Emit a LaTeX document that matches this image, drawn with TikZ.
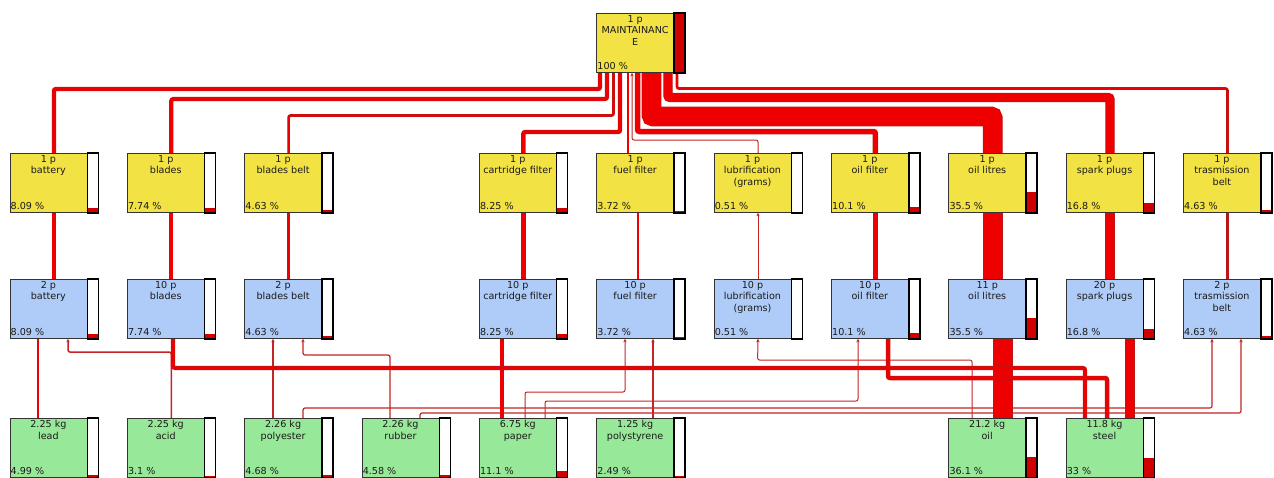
\documentclass[tikz,border=0pt]{standalone}
\usepackage{fontspec}
\setmainfont{DejaVu Sans}
\usetikzlibrary{arrows.meta,calc,backgrounds}
\definecolor{boxyellow}{HTML}{F2E244}
\definecolor{boxblue}{HTML}{AFCBF7}
\definecolor{boxgreen}{HTML}{98E89A}
\definecolor{flowred}{HTML}{EE0000}
\definecolor{flowedge}{HTML}{B81818}
\definecolor{flowthin}{HTML}{C42424}
\definecolor{barred}{HTML}{D00000}
\definecolor{txt}{HTML}{1A1A1A}

\tikzset{
  proc/.style={draw=black!80, line width=0.8pt, minimum width=88pt, minimum height=59pt,
    inner sep=0pt, anchor=north west},
  title/.style={anchor=north, align=center, inner sep=0pt,
    font=\fontsize{9.6}{11.6}\selectfont, text=txt},
  share/.style={anchor=base west, inner sep=0pt,
    font=\fontsize{9.6}{11.6}\selectfont, text=txt},
  flow/.style={draw=flowedge, line width=0.55pt, double=flowred, double distance=#1pt,
    rounded corners=2pt},
  thinflow/.style={draw=flowthin, line width=#1pt, rounded corners=2pt,
    -{Stealth[length=3.5pt,width=3.5pt]}},
}

% process box: name, left, top, fill, title lines, share, bar fraction
\newcommand\lcabox[7]{%
  \node[proc, fill=#4] (#1) at (#2,#3) {};
  \fill[white] ([xshift=-11pt]#1.north east) rectangle (#1.south east);
  \fill[barred] ([xshift=-11pt]#1.south east) rectangle ([yshift=#7*59pt]#1.south east);
  \draw[black, line width=1.5pt] ([xshift=-11pt]#1.north east) rectangle (#1.south east);
  \node[title] (#1-t) at ([xshift=-5.5pt,yshift=-2pt]#1.north) {#5};
  \node[share] (#1-p) at ([xshift=1pt,yshift=3.5pt]#1.south west) {#6 \%};
}

\begin{document}
\begin{tikzpicture}[x=1pt,y=-1pt]
\useasboundingbox (0,0) rectangle (1274,477);

% ---- process boxes ----
\lcabox{top}{596.25}{13}{boxyellow}{1 p\\MAINTAINANC\\E}{100}{1}

\lcabox{bat1}{9.5}{153}{boxyellow}{1 p\\battery}{8.09}{0.0809}
\lcabox{bla1}{126.85}{153}{boxyellow}{1 p\\blades}{7.74}{0.0774}
\lcabox{belt1}{244.2}{153}{boxyellow}{1 p\\blades belt}{4.63}{0.0463}
\lcabox{cart1}{478.9}{153}{boxyellow}{1 p\\cartridge filter}{8.25}{0.0825}
\lcabox{fuel1}{596.25}{153}{boxyellow}{1 p\\fuel filter}{3.72}{0.0372}
\lcabox{lub1}{713.6}{153}{boxyellow}{1 p\\lubrification\\(grams)}{0.51}{0.0051}
\lcabox{oilf1}{830.95}{153}{boxyellow}{1 p\\oil filter}{10.1}{0.101}
\lcabox{lit1}{948.3}{153}{boxyellow}{1 p\\oil litres}{35.5}{0.355}
\lcabox{spark1}{1065.65}{153}{boxyellow}{1 p\\spark plugs}{16.8}{0.168}
\lcabox{trans1}{1183}{153}{boxyellow}{1 p\\trasmission\\belt}{4.63}{0.0463}

\lcabox{bat2}{9.5}{279}{boxblue}{2 p\\battery}{8.09}{0.0809}
\lcabox{bla2}{126.85}{279}{boxblue}{10 p\\blades}{7.74}{0.0774}
\lcabox{belt2}{244.2}{279}{boxblue}{2 p\\blades belt}{4.63}{0.0463}
\lcabox{cart2}{478.9}{279}{boxblue}{10 p\\cartridge filter}{8.25}{0.0825}
\lcabox{fuel2}{596.25}{279}{boxblue}{10 p\\fuel filter}{3.72}{0.0372}
\lcabox{lub2}{713.6}{279}{boxblue}{10 p\\lubrification\\(grams)}{0.51}{0.0051}
\lcabox{oilf2}{830.95}{279}{boxblue}{10 p\\oil filter}{10.1}{0.101}
\lcabox{lit2}{948.3}{279}{boxblue}{11 p\\oil litres}{35.5}{0.355}
\lcabox{spark2}{1065.65}{279}{boxblue}{20 p\\spark plugs}{16.8}{0.168}
\lcabox{trans2}{1183}{279}{boxblue}{2 p\\trasmission\\belt}{4.63}{0.0463}

\lcabox{lead}{9.5}{418}{boxgreen}{2.25 kg\\lead}{4.99}{0.0499}
\lcabox{acid}{126.85}{418}{boxgreen}{2.25 kg\\acid}{3.1}{0.031}
\lcabox{poly}{244.2}{418}{boxgreen}{2.26 kg\\polyester}{4.68}{0.0468}
\lcabox{rub}{361.55}{418}{boxgreen}{2.26 kg\\rubber}{4.58}{0.0458}
\lcabox{paper}{478.9}{418}{boxgreen}{6.75 kg\\paper}{11.1}{0.111}
\lcabox{polys}{596.25}{418}{boxgreen}{1.25 kg\\polystyrene}{2.49}{0.0249}
\lcabox{oil}{948.3}{418}{boxgreen}{21.2 kg\\oil}{36.1}{0.361}
\lcabox{steel}{1065.65}{418}{boxgreen}{11.8 kg\\steel}{33}{0.33}

\begin{pgfonlayer}{background}
% ---- flows into MAINTAINANCE ----
\draw[flow=3.2] (bat1.north) |- (600,89) -- (top.south -| 600,0);
\draw[flow=3.0] (bla1.north) |- (607,99) -- (top.south -| 607,0);
\draw[flow=1.6] (belt1.north) |- (613.5,115.5) -- (top.south -| 613.5,0);
\draw[flow=3.3] (cart1.north) |- (620,132) -- (top.south -| 620,0);
\draw[flow=1.2] (fuel1.north -| 628,0) -- (top.south -| 628,0);
\draw[thinflow=1] (lub1.north) |- (632,140) -- (top.south -| 632,0);
\draw[flow=4.4] (oilf1.north) |- (637.5,131.5) -- (top.south -| 637.5,0);
\draw[flow=18.8] (lit1.north) |- (651.5,116.5) -- (top.south -| 651.5,0);
\draw[flow=8.2] (spark1.north) |- (668,97.5) -- (top.south -| 668,0);
\draw[flow=1.6] (trans1.north) |- (677,88.5) -- (top.south -| 677,0);

% ---- flows between the two rows of parts ----
\draw[flow=3.2] (bat2.north) -- (bat1.south);
\draw[flow=3.0] (bla2.north) -- (bla1.south);
\draw[flow=1.6] (belt2.north) -- (belt1.south);
\draw[flow=3.3] (cart2.north) -- (cart1.south);
\draw[flow=1.2] (fuel2.north -| 638,0) -- (fuel1.south -| 638,0);
\draw[thinflow=1] (lub2.north) -- (lub1.south);
\draw[flow=4.4] (oilf2.north) -- (oilf1.south);
\draw[flow=18.8] (lit2.north) -- (lit1.south);
\draw[flow=8.2] (spark2.north) -- (spark1.south);
\draw[flow=1.6] (trans2.north) -- (trans1.south);

% ---- flows from materials ----
\draw[flow=1.8] (lead.north -| 38,0) -- (bat2.south -| 38,0);
\draw[thinflow=1.5] (acid.north) |- (68,352) -- (bat2.south -| 68,0);
\draw[thinflow=1.2] (poly.north -| 273,0) -- (belt2.south -| 273,0);
\draw[thinflow=1.2] (rub.north -| 390,0) |- (303,355) -- (belt2.south -| 303,0);
\draw[thinflow=1.2] (poly.north -| 303,0) |- (1212,408) -- (trans2.south -| 1212,0);
\draw[thinflow=1.2] (rub.north -| 420,0) |- (1241,413) -- (trans2.south -| 1241,0);
\draw[flow=3.3] (paper.north -| 502,0) -- (cart2.south -| 502,0);
\draw[thinflow=1] (paper.north -| 525,0) |- (625,392) -- (fuel2.south -| 625,0);
\draw[thinflow=1] (paper.north -| 545,0) |- (858,401) -- (oilf2.south -| 858,0);
\draw[thinflow=1.3] (polys.north -| 653,0) -- (fuel2.south -| 653,0);
\draw[thinflow=1] (oil.north -| 972,0) |- (757.6,360) -- (lub2.south);
\draw[flow=18.8] (oil.north -| 1003,0) -- (lit2.south -| 1003,0);
\draw[flow=3.0] (steel.north -| 1085,0) |- (173,368) -- (bla2.south -| 173,0);
\draw[flow=3.4] (steel.north -| 1107,0) |- (888,378) -- (oilf2.south -| 888,0);
\draw[flow=8.2] (steel.north -| 1130,0) -- (spark2.south -| 1130,0);
\end{pgfonlayer}
\end{tikzpicture}
\end{document}
